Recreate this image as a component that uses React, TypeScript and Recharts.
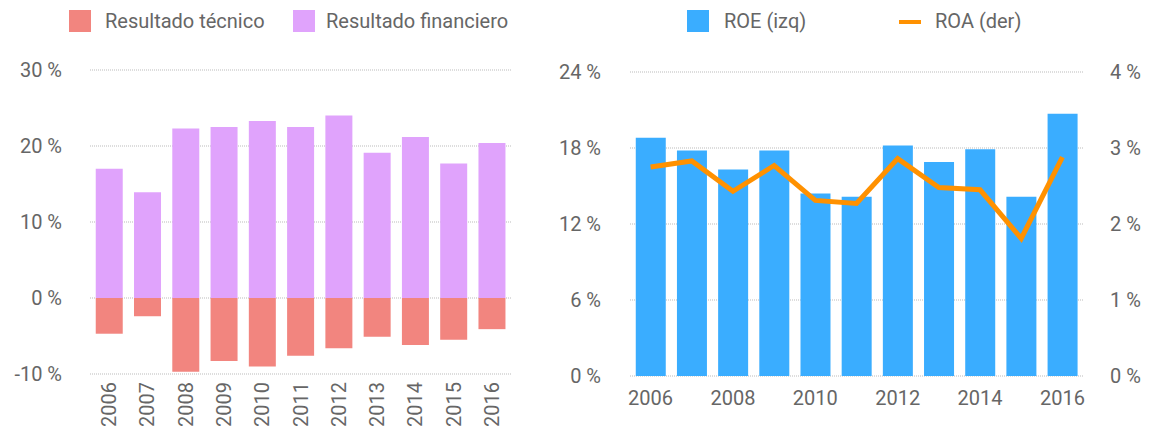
import React from 'react';
import {
  ComposedChart,
  Bar,
  Line,
  XAxis,
  YAxis,
  CartesianGrid,
} from 'recharts';

const years = ['2006', '2007', '2008', '2009', '2010', '2011', '2012', '2013', '2014', '2015', '2016'];
const resultadoTecnico = [-4.7, -2.4, -9.7, -8.3, -9.0, -7.6, -6.6, -5.1, -6.2, -5.5, -4.1];
const resultadoFinanciero = [17.0, 13.9, 22.3, 22.5, 23.3, 22.5, 24.0, 19.1, 21.2, 17.7, 20.4];
const roe = [18.8, 17.8, 16.3, 17.8, 14.4, 14.15, 18.2, 16.9, 17.9, 14.15, 20.7];
const roa = [2.75, 2.83, 2.43, 2.77, 2.31, 2.27, 2.86, 2.48, 2.45, 1.81, 2.88];

const leftTicks = [-10, 0, 10, 20, 30];
const roeTicks = [0, 6, 12, 18, 24];
const roaTicks = [0, 1, 2, 3, 4];

const leftData = years.map((y, i) => ({
  year: y,
  tecnico: resultadoTecnico[i],
  financiero: resultadoFinanciero[i],
}));
const rightData = years.map((y, i) => ({ year: y, roe: roe[i], roa: roa[i] }));

const COLORS = {
  tecnico: '#F2857F',
  financiero: '#E0A3FC',
  roe: '#3AADFF',
  roa: '#FF9100',
  text: '#666666',
  grid: '#BBBBBB',
};
const FONT = 'Roboto, sans-serif';
const FS = 20;

const pct = (v: number) => `${v} %`;

const RotatedTick = (props: any) => {
  const { x, y, payload } = props;
  return (
    <text
      x={x}
      y={y}
      transform={`rotate(-90, ${x}, ${y})`}
      textAnchor="end"
      dy="0.35em"
      fill={COLORS.text}
      fontSize={FS}
      fontFamily={FONT}
    >
      {payload.value}
    </text>
  );
};

const legendText: React.CSSProperties = {
  position: 'absolute',
  fontFamily: FONT,
  fontSize: FS,
  color: COLORS.text,
  lineHeight: '22px',
  top: 10,
  whiteSpace: 'nowrap',
};

export default function App() {
  const tickStyle = { fill: COLORS.text, fontSize: FS, fontFamily: FONT };
  return (
    <div
      style={{
        position: 'absolute',
        left: 0,
        top: 0,
        width: 1163,
        height: 426,
        background: '#fff',
        overflow: 'hidden',
      }}
    >
      {/* Left legend */}
      <div style={{ position: 'absolute', left: 69, top: 10, width: 22, height: 22, background: COLORS.tecnico }} />
      <div style={{ ...legendText, left: 105 }}>Resultado técnico</div>
      <div style={{ position: 'absolute', left: 293, top: 10, width: 22, height: 22, background: COLORS.financiero }} />
      <div style={{ ...legendText, left: 326 }}>Resultado financiero</div>

      {/* Right legend */}
      <div style={{ position: 'absolute', left: 687, top: 10, width: 22, height: 22, background: COLORS.roe }} />
      <div style={{ ...legendText, left: 724 }}>ROE (izq)</div>
      <div style={{ position: 'absolute', left: 899, top: 20, width: 22, height: 4, background: COLORS.roa }} />
      <div style={{ ...legendText, left: 935 }}>ROA (der)</div>

      {/* Left chart */}
      <div style={{ position: 'absolute', left: 0, top: 0 }}>
        <ComposedChart
          width={520}
          height={426}
          data={leftData}
          margin={{ top: 70, right: 9, bottom: 0, left: 0 }}
          stackOffset="sign"
          barCategoryGap="15%"
        >
          <CartesianGrid vertical={false} stroke={COLORS.grid} strokeDasharray="1 1" />
          <XAxis
            dataKey="year"
            axisLine={false}
            tickLine={false}
            height={52}
            tickMargin={2}
            interval={0}
            tick={<RotatedTick />}
          />
          <YAxis
            domain={[-10, 30]}
            ticks={leftTicks}
            tickFormatter={pct}
            axisLine={false}
            tickLine={false}
            width={90}
            tickMargin={22}
            tick={tickStyle}
          />
          <Bar dataKey="tecnico" stackId="a" fill={COLORS.tecnico} isAnimationActive={false} />
          <Bar dataKey="financiero" stackId="a" fill={COLORS.financiero} isAnimationActive={false} />
        </ComposedChart>
      </div>

      {/* Right chart */}
      <div style={{ position: 'absolute', left: 520, top: 0 }}>
        <ComposedChart
          width={643}
          height={426}
          data={rightData}
          margin={{ top: 72, right: 20, bottom: 0, left: 0 }}
          barCategoryGap="14%"
        >
          <CartesianGrid vertical={false} stroke={COLORS.grid} strokeDasharray="1 1" yAxisId="left" />
          <XAxis
            dataKey="year"
            axisLine={false}
            tickLine={false}
            height={50}
            tickMargin={9}
            interval={1}
            tick={tickStyle}
          />
          <YAxis
            yAxisId="left"
            orientation="left"
            domain={[0, 24]}
            ticks={roeTicks}
            tickFormatter={pct}
            axisLine={false}
            tickLine={false}
            width={110}
            tickMargin={23}
            tick={tickStyle}
          />
          <YAxis
            yAxisId="right"
            orientation="right"
            domain={[0, 4]}
            ticks={roaTicks}
            tickFormatter={pct}
            axisLine={false}
            tickLine={false}
            width={60}
            tickMargin={21}
            tick={tickStyle}
          />
          <Bar yAxisId="left" dataKey="roe" fill={COLORS.roe} isAnimationActive={false} />
          <Line
            yAxisId="right"
            dataKey="roa"
            type="linear"
            stroke={COLORS.roa}
            strokeWidth={5}
            dot={false}
            activeDot={false}
            isAnimationActive={false}
          />
        </ComposedChart>
      </div>
    </div>
  );
}
